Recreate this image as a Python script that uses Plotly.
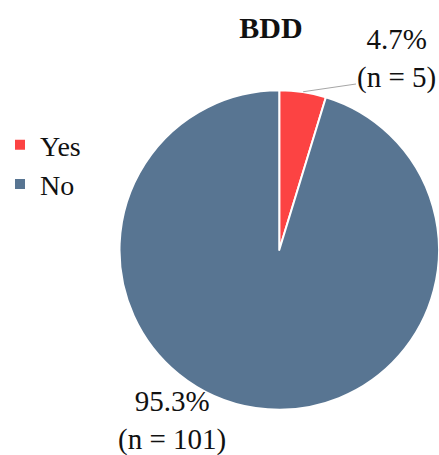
import math
import plotly.graph_objects as go

# Survey responses for BDD
categories = ["Yes", "No"]
counts = [5, 101]
colors = ["#FC4343", "#587592"]

W, H = 439, 455
FONT = "Liberation Serif"

# pie geometry (pixels, measured from top-left)
cx, cy, r = 279.5, 250.0, 160.0

total = sum(counts)
pct = [c / total * 100 for c in counts]

fig = go.Figure(
    go.Pie(
        labels=categories,
        values=counts,
        sort=False,
        direction="clockwise",
        rotation=0,
        marker=dict(colors=colors, line=dict(color="white", width=2)),
        textinfo="none",
        hoverinfo="label+value+percent",
        domain=dict(x=[(cx - r) / W, 1.0], y=[(H - cy - r) / H, (H - cy + r) / H]),
    )
)


def px_to_paper(x, y):
    return x / W, 1 - y / H


# data labels positioned around the slices
label_pos = [(396, 59), (172, 420)]
annotations = []
for c, p, (lx, ly) in zip(counts, pct, label_pos):
    ax_, ay_ = px_to_paper(lx, ly)
    annotations.append(
        dict(
            x=ax_, y=ay_, xref="paper", yref="paper",
            text=f"{p:.1f}%<br>(n = {c})",
            showarrow=False, xanchor="center", yanchor="middle",
            font=dict(family=FONT, size=29, color="#111111"),
        )
    )

# leader line from the middle of the small slice to its label
mid = 0.5 * counts[0] / total * 2 * math.pi
sx, sy = cx + r * math.sin(mid), cy - r * math.cos(mid)
x0, y0 = px_to_paper(sx, sy)
x1, y1 = px_to_paper(356, 84)
shapes = [
    dict(type="line", xref="paper", yref="paper", x0=x0, y0=y0, x1=x1, y1=y1,
         line=dict(color="#A6A6A6", width=1))
]

tx, ty = px_to_paper(271, 27)
fig.update_layout(
    width=W, height=H,
    margin=dict(l=0, r=0, t=0, b=0),
    paper_bgcolor="white",
    plot_bgcolor="white",
    font=dict(family=FONT),
    title=dict(text="<b>BDD</b>", x=tx, y=ty, xanchor="center", yanchor="middle",
               font=dict(family=FONT, size=30, color="#111111")),
    legend=dict(x=0.0, y=1 - 120 / H, xanchor="left", yanchor="top",
                font=dict(family=FONT, size=28, color="#111111"),
                bgcolor="rgba(0,0,0,0)", tracegroupgap=0),
    annotations=annotations,
    shapes=shapes,
)

fig.write_html("out.html")
